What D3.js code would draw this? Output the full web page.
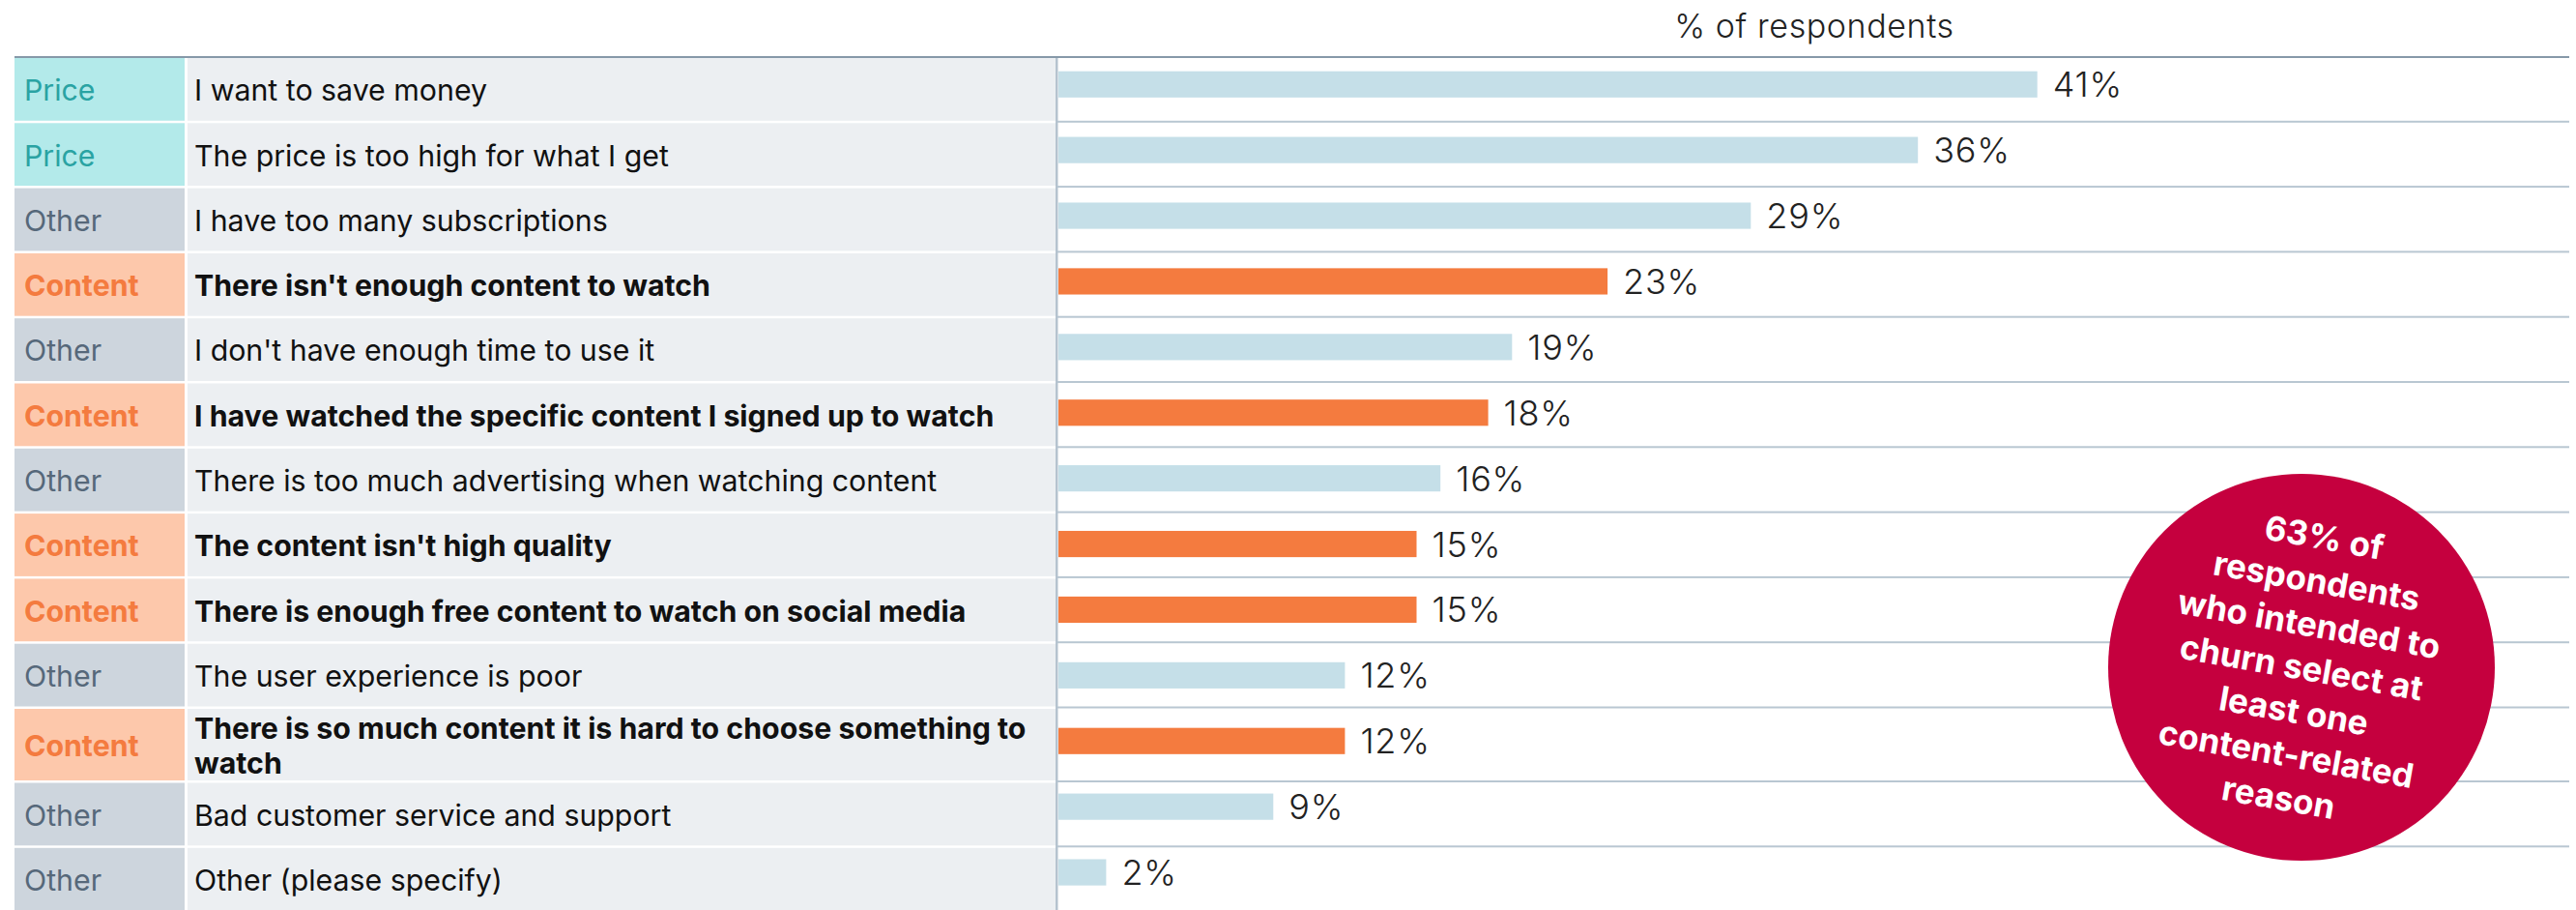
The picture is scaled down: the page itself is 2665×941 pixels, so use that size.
<!DOCTYPE html>
<html>
<head>
<meta charset="utf-8">
<script src="https://cdn.jsdelivr.net/npm/d3@7"></script>
<style>
  html, body { margin: 0; padding: 0; background: #ffffff; }
  svg { display: block; }
</style>
</head>
<body>
<script>
// Churn reasons: category tag, reason text, share of respondents (%)
const categories = ["Price", "Price", "Other", "Content", "Other", "Content", "Other",
                    "Content", "Content", "Other", "Content", "Other", "Other"];
const reasons = [
  "I want to save money",
  "The price is too high for what I get",
  "I have too many subscriptions",
  "There isn't enough content to watch",
  "I don't have enough time to use it",
  "I have watched the specific content I signed up to watch",
  "There is too much advertising when watching content",
  "The content isn't high quality",
  "There is enough free content to watch on social media",
  "The user experience is poor",
  "There is so much content it is hard to choose something to\nwatch",
  "Bad customer service and support",
  "Other (please specify)"
];
const values = [41, 36, 29, 23, 19, 18, 16, 15, 15, 12, 12, 9, 2];
const axisTitle = "% of respondents";
const calloutLines = ["63% of", "respondents", "who intended to", "churn select at",
                      "least one", "content-related", "reason"];

const W = 2665, H = 941;
const FONT = "Inter, 'Noto Sans', sans-serif";

const catStyle = {
  Price:   { bg: "#b3eaea", fg: "#2aa3a3", weight: 400 },
  Other:   { bg: "#cdd5dd", fg: "#56687a", weight: 400 },
  Content: { bg: "#fdc8ab", fg: "#f47b3f", weight: 700 }
};
const barColor = c => c === "Content" ? "#f47b3f" : "#c5dfe8";

// table geometry
const tableX0 = 15, catX1 = 191, labelX0 = 194, labelX1 = 1092;
const chartX0 = 1095, chartX1 = 2658;
const tableTop = 60;
const rowBase = 67.3, extraLine = 9.2;
const labelSize = 30.3;

const rows = reasons.map((r, i) => ({
  i, cat: categories[i], lines: r.split("\n"), value: values[i]
}));
let yAcc = tableTop;
rows.forEach(d => {
  d.top = yAcc;
  d.h = rowBase + (d.lines.length - 1) * extraLine;
  yAcc += d.h;
});

const svg = d3.select("body").append("svg")
  .attr("width", W).attr("height", H)
  .style("font-family", FONT);

// scales for the bars
const x = d3.scaleLinear().domain([0, 45]).range([chartX0, chartX0 + 45 * 24.7]);
const y = d3.scaleBand().domain(d3.range(rows.length))
  .range([53.3, 53.3 + rows.length * 67.9])
  .paddingInner(0.6).paddingOuter(0.3);

// axis title
svg.append("text")
  .attr("x", 1877).attr("y", 39)
  .attr("text-anchor", "middle")
  .attr("font-size", 34).attr("font-weight", 300)
  .attr("letter-spacing", 0.6)
  .attr("fill", "#222")
  .text(axisTitle);

// category and reason cells
const rowG = svg.append("g").selectAll("g").data(rows).join("g");
rowG.append("rect")
  .attr("x", tableX0).attr("y", d => d.top)
  .attr("width", catX1 - tableX0).attr("height", d => d.h - 2.5)
  .attr("fill", d => catStyle[d.cat].bg);
rowG.append("rect")
  .attr("x", labelX0).attr("y", d => d.top)
  .attr("width", labelX1 - labelX0).attr("height", d => d.h - 2.5)
  .attr("fill", "#eceff2");

rowG.append("text")
  .attr("x", 25).attr("y", d => d.top + d.h / 2)
  .attr("dy", "0.35em")
  .attr("font-size", labelSize)
  .attr("font-weight", d => catStyle[d.cat].weight)
  .attr("fill", d => catStyle[d.cat].fg)
  .text(d => d.cat);

rowG.append("text")
  .attr("font-size", labelSize)
  .attr("font-weight", d => d.cat === "Content" ? 700 : 400)
  .attr("fill", "#111")
  .each(function(d) {
    const t = d3.select(this);
    const lh = 36;
    const y0 = d.top + d.h / 2 - (d.lines.length - 1) * lh / 2;
    d.lines.forEach((ln, k) => {
      t.append("tspan").attr("x", 201).attr("y", y0 + k * lh).attr("dy", "0.35em").text(ln);
    });
  });

// row rules in the bar area
svg.append("g").selectAll("rect").data(rows).join("rect")
  .attr("x", chartX0 - 1).attr("y", d => d.top + d.h - 2.5)
  .attr("width", chartX1 - chartX0 + 1).attr("height", 2)
  .attr("fill", "#b9c7d2");

// vertical divider between table and bars
svg.append("rect")
  .attr("x", labelX1).attr("y", tableTop)
  .attr("width", 2.5).attr("height", H - tableTop)
  .attr("fill", "#b5c3cf");

// top border
svg.append("rect")
  .attr("x", tableX0).attr("y", tableTop - 2)
  .attr("width", chartX1 - tableX0).attr("height", 2)
  .attr("fill", "#8699a9");

// bars
svg.append("g").selectAll("rect").data(rows).join("rect")
  .attr("x", x(0)).attr("y", d => y(d.i))
  .attr("width", d => x(d.value) - x(0))
  .attr("height", y.bandwidth())
  .attr("fill", d => barColor(d.cat));

// value labels
svg.append("g").selectAll("text").data(rows).join("text")
  .attr("x", d => x(d.value) + 16)
  .attr("y", d => y(d.i) + y.bandwidth() / 2)
  .attr("dy", "0.36em")
  .attr("font-size", 36).attr("font-weight", 300)
  .attr("letter-spacing", 0.8)
  .attr("fill", "#222")
  .text(d => d.value + "%");

// callout bubble
const cx = 2381, cy = 690, r = 200;
svg.append("circle").attr("cx", cx).attr("cy", cy).attr("r", r).attr("fill", "#c5003e");
const cg = svg.append("g").attr("transform", `translate(${cx},${cy}) rotate(10)`);
cg.selectAll("text").data(calloutLines).join("text")
  .attr("x", 0)
  .attr("y", (d, k) => (k - (calloutLines.length - 1) / 2) * 45.5)
  .attr("dy", "0.36em")
  .attr("text-anchor", "middle")
  .attr("font-size", 35).attr("font-weight", 700)
  .attr("fill", "#ffffff")
  .text(d => d);
</script>
</body>
</html>
